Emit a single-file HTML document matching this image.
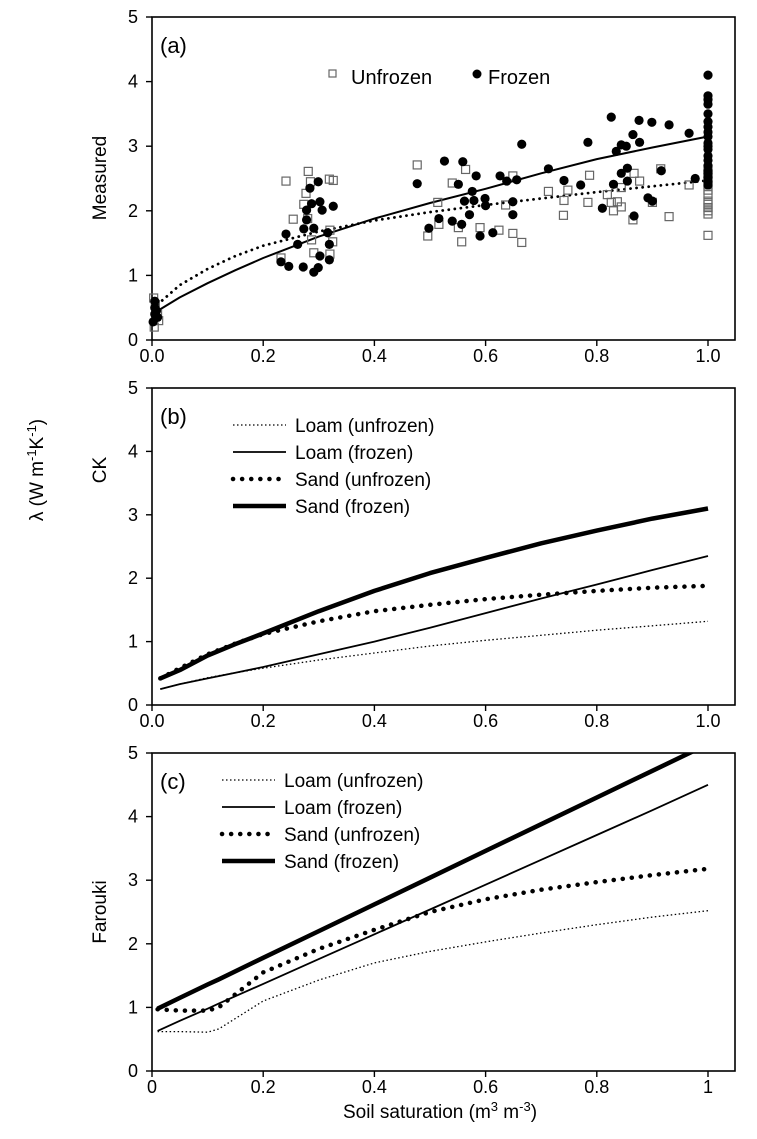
<!DOCTYPE html>
<html><head><meta charset="utf-8"><style>
body{margin:0;background:#fff;}
svg{display:block;font-family:"Liberation Sans",sans-serif;}
</style></head><body>
<svg id="chart" width="757" height="1139" viewBox="0 0 757 1139" xmlns="http://www.w3.org/2000/svg">
<text transform="translate(43,470) rotate(-90)" text-anchor="middle" font-size="19">λ (W m<tspan dy="-7" font-size="13">-1</tspan><tspan dy="7">K</tspan><tspan dy="-7" font-size="13">-1</tspan><tspan dy="7">)</tspan></text>
<text x="440" y="1118" text-anchor="middle" font-size="19">Soil saturation (m<tspan dy="-7" font-size="13">3</tspan><tspan dy="7"> m</tspan><tspan dy="-7" font-size="13">-3</tspan><tspan dy="7">)</tspan></text>
</svg>
<script>
// ---------- Panel (a) data ----------
const frozenX=[1,1,1,1,1,1,1,1,1,1,1,1,1,1,1,1,1,1,1,1,0.826,0.876,0.899,0.93,0.966,0.865,0.877,0.844,0.853,0.835,0.784,0.665,0.713,0.741,0.771,0.844,0.855,0.83,0.855,0.916,0.977,0.892,0.9,0.81,0.867,0.477,0.526,0.559,0.551,0.583,0.626,0.638,0.656,0.576,0.562,0.579,0.599,0.6,0.649,0.649,0.571,0.516,0.54,0.557,0.498,0.59,0.613,0.241,0.262,0.232,0.246,0.272,0.291,0.299,0.302,0.319,0.319,0.316,0.273,0.291,0.278,0.278,0.287,0.302,0.306,0.326,0.284,0.299,0.005,0.005,0.005,0.01,0.002,0.008];
const frozenY=[4.1,3.78,3.72,3.65,3.5,3.38,3.3,3.22,3.15,3.05,3.0,2.95,2.85,2.78,2.7,2.62,2.58,2.52,2.45,2.4,3.45,3.4,3.37,3.33,3.2,3.18,3.06,3.02,3.0,2.92,3.06,3.03,2.65,2.47,2.4,2.58,2.66,2.41,2.46,2.62,2.5,2.2,2.15,2.04,1.92,2.42,2.77,2.76,2.41,2.54,2.54,2.46,2.48,2.3,2.15,2.16,2.19,2.08,2.14,1.94,1.94,1.88,1.84,1.79,1.73,1.61,1.66,1.64,1.48,1.21,1.14,1.13,1.05,1.12,1.3,1.24,1.48,1.66,1.72,1.73,1.86,2.01,2.11,2.14,2.01,2.07,2.35,2.45,0.6,0.5,0.4,0.35,0.28,0.45];
const unfrozenX=[0.241,0.281,0.285,0.319,0.326,0.277,0.273,0.254,0.28,0.32,0.287,0.325,0.291,0.32,0.232,0.477,0.564,0.54,0.514,0.496,0.516,0.551,0.557,0.59,0.624,0.649,0.665,0.649,0.636,0.713,0.748,0.741,0.74,0.787,0.784,0.819,0.826,0.837,0.83,0.844,0.867,0.877,0.844,0.865,0.9,0.93,0.966,0.915,1,1,1,1,1,1,1,1,1,1,1,1,0.003,0.006,0.01,0.004,0.012];
const unfrozenY=[2.46,2.61,2.45,2.49,2.47,2.27,2.1,1.87,1.88,1.7,1.55,1.52,1.35,1.33,1.27,2.71,2.64,2.43,2.13,1.61,1.79,1.74,1.52,1.74,1.7,1.65,1.51,2.54,2.09,2.3,2.32,2.16,1.93,2.55,2.13,2.25,2.13,2.14,2.0,2.06,2.58,2.46,2.36,1.86,2.13,1.91,2.4,2.65,1.62,1.95,2.05,2.15,2.25,2.32,2.4,2.48,2.55,2.62,2.0,2.1,0.65,0.55,0.4,0.2,0.3];
const fitX=[0.01,0.05,0.1,0.15,0.2,0.3,0.4,0.5,0.6,0.7,0.8,0.9,1.0];
const fitFrozen=[0.45,0.66,0.88,1.08,1.27,1.6,1.88,2.12,2.34,2.58,2.8,2.98,3.15];
const fitUnfrozen=[0.55,0.85,1.1,1.3,1.46,1.68,1.85,1.98,2.09,2.19,2.29,2.38,2.47];
// ---------- Panel (b) CK data ----------
const ckX=[0.015,0.05,0.1,0.15,0.2,0.3,0.4,0.5,0.6,0.7,0.8,0.9,1.0];
const ckLoamUnfrozen=[0.25,0.33,0.43,0.51,0.58,0.71,0.82,0.93,1.02,1.1,1.18,1.25,1.32];
const ckLoamFrozen=[0.25,0.33,0.42,0.51,0.6,0.8,1.0,1.22,1.45,1.68,1.9,2.13,2.35];
const ckSandUnfrozen=[0.42,0.58,0.8,0.97,1.12,1.32,1.48,1.58,1.67,1.74,1.8,1.85,1.88];
const ckSandFrozen=[0.42,0.55,0.78,0.96,1.13,1.48,1.8,2.08,2.32,2.55,2.75,2.94,3.1];
// ---------- Panel (c) Farouki data ----------
const faX=[0.01,0.05,0.1,0.12,0.2,0.3,0.4,0.5,0.6,0.7,0.8,0.9,1.0];
const faLoamUnfrozen=[0.62,0.62,0.61,0.66,1.1,1.43,1.7,1.88,2.03,2.17,2.3,2.42,2.52];
const faLoamFrozen=[0.63,0.79,0.98,1.06,1.37,1.76,2.15,2.54,2.93,3.32,3.71,4.1,4.5];
const faSandUnfrozen=[0.97,0.95,0.95,1.0,1.55,1.92,2.22,2.5,2.7,2.85,2.97,3.08,3.18];
const faSandFrozen=[0.98,1.15,1.36,1.44,1.78,2.2,2.62,3.04,3.46,3.88,4.3,4.72,5.14];
const xTicksA=["0.0","0.2","0.4","0.6","0.8","1.0"];
const xTicksC=["0","0.2","0.4","0.6","0.8","1"];
const yTicks=["0","1","2","3","4","5"];

const NS="http://www.w3.org/2000/svg";
const svg=document.getElementById('chart');
function mk(tag,attrs,parent){const e=document.createElementNS(NS,tag);for(const k in attrs)e.setAttribute(k,attrs[k]);(parent||svg).appendChild(e);return e;}

const X0=152,X1=708,XR=735;
function xs(v){return X0+v*(X1-X0);}

function panel(name,top,bottom,xt,label,ytitle,ytitleY){
  const g=mk('g',{});
  
  
  const ys=v=>bottom-v*(bottom-top)/5;
  const box=mk('rect',{x:X0,y:top,width:XR-X0,height:bottom-top,fill:'none',stroke:'#000','stroke-width':1.6},g);
  
  
  yTicks.forEach((t,i)=>{
    mk('line',{x1:X0-6,x2:X0,y1:ys(i),y2:ys(i),stroke:'#000','stroke-width':1.4},g);
    const tx=mk('text',{x:X0-14,y:ys(i)+6,'text-anchor':'end','font-size':18},g);
    
    
    tx.textContent=t;
  });
  xt.forEach((t,i)=>{
    const v=i*0.2;
    mk('line',{x1:xs(v),x2:xs(v),y1:bottom,y2:bottom+6,stroke:'#000','stroke-width':1.4},g);
    const tx=mk('text',{x:xs(v),y:bottom+22,'text-anchor':'middle','font-size':18},g);
    
    
    tx.textContent=t;
  });
  const lb=mk('text',{x:X0+8,y:top+36,'font-size':22},g);
  
  
  lb.textContent=label;
  const yt=mk('text',{transform:`translate(${X0-46},${ytitleY}) rotate(-90)`,'text-anchor':'middle','font-size':19},g);
  
  
  yt.textContent=ytitle;
  return {g,ys};
}
function line(g,xArr,yArr,ys,style,name){
  const d=xArr.map((x,i)=>(i?'L':'M')+xs(x).toFixed(1)+','+ys(Math.min(yArr[i],5.4)).toFixed(1)).join('');
  const p=mk('path',Object.assign({d:d,fill:'none',stroke:'#000','stroke-linejoin':'round'},style),g);
  
  
  return p;
}
const DOT={'stroke-width':1.3,'stroke-dasharray':'1.5 2.5'};
const SOLID={'stroke-width':1.8};
const BIGDOT={'stroke-width':4.5,'stroke-dasharray':'0.1 9','stroke-linecap':'round'};
const THICK={'stroke-width':4.5};

// Panel a
const A=panel('a',17,340,xTicksA,'(a)','Measured',178);
line(A.g,fitX,fitUnfrozen,A.ys,{'stroke-width':2.8,'stroke-dasharray':'0.1 6','stroke-linecap':'round'},'fit-unfrozen');
line(A.g,fitX,fitFrozen,A.ys,{'stroke-width':2},'fit-frozen');
unfrozenX.forEach((x,i)=>{
  const r=mk('rect',{x:xs(x)-4,y:A.ys(unfrozenY[i])-4,width:8,height:8,fill:'none',stroke:'#666','stroke-width':1.2},A.g);
  
  
});
frozenX.forEach((x,i)=>{
  const c=mk('circle',{cx:xs(x),cy:A.ys(frozenY[i]),r:4.6,fill:'#000'},A.g);
  
  
});
// legend a
const la=mk('g',{},A.g);


mk('rect',{x:329,y:70,width:7,height:7,fill:'none',stroke:'#666','stroke-width':1.2},la);
let t=mk('text',{x:351,y:84,'font-size':20},la);t.textContent='Unfrozen';
mk('circle',{cx:477,cy:74,r:4.5,fill:'#000'},la);
t=mk('text',{x:488,y:84,'font-size':20},la);t.textContent='Frozen';

function legend(g,x,y,name){
  const lg=mk('g',{},g);
  
  
  const labels=['Loam (unfrozen)','Loam (frozen)','Sand (unfrozen)','Sand (frozen)'];
  const styles=[DOT,SOLID,BIGDOT,THICK];
  labels.forEach((l,i)=>{
    const yy=y+i*27;
    const ln=mk('path',Object.assign({d:`M${x},${yy}L${x+53},${yy}`,stroke:'#000',fill:'none'},styles[i]),lg);
    
    
    const tx=mk('text',{x:x+62,y:yy+7,'font-size':19},lg);
    
    
    tx.textContent=l;
  });
}
// Panel b
const B=panel('b',388,705,xTicksA,'(b)','CK',470);
line(B.g,ckX,ckLoamUnfrozen,B.ys,DOT,'ck-loam-unfrozen');
line(B.g,ckX,ckLoamFrozen,B.ys,SOLID,'ck-loam-frozen');
line(B.g,ckX,ckSandUnfrozen,B.ys,BIGDOT,'ck-sand-unfrozen');
line(B.g,ckX,ckSandFrozen,B.ys,THICK,'ck-sand-frozen');
legend(B.g,233,425,'b');
// Panel c
const C=panel('c',753,1071,xTicksC,'(c)','Farouki',912);
const cp=mk('clipPath',{id:'cc'});mk('rect',{x:X0,y:753,width:XR-X0,height:318},cp);
const cg=mk('g',{'clip-path':'url(#cc)'},C.g);


line(cg,faX,faLoamUnfrozen,C.ys,DOT,'farouki-loam-unfrozen');
line(cg,faX,faLoamFrozen,C.ys,SOLID,'farouki-loam-frozen');
line(cg,faX,faSandUnfrozen,C.ys,BIGDOT,'farouki-sand-unfrozen');
line(cg,faX,faSandFrozen,C.ys,THICK,'farouki-sand-frozen');
legend(C.g,222,780,'c');
</script>
</body></html>
